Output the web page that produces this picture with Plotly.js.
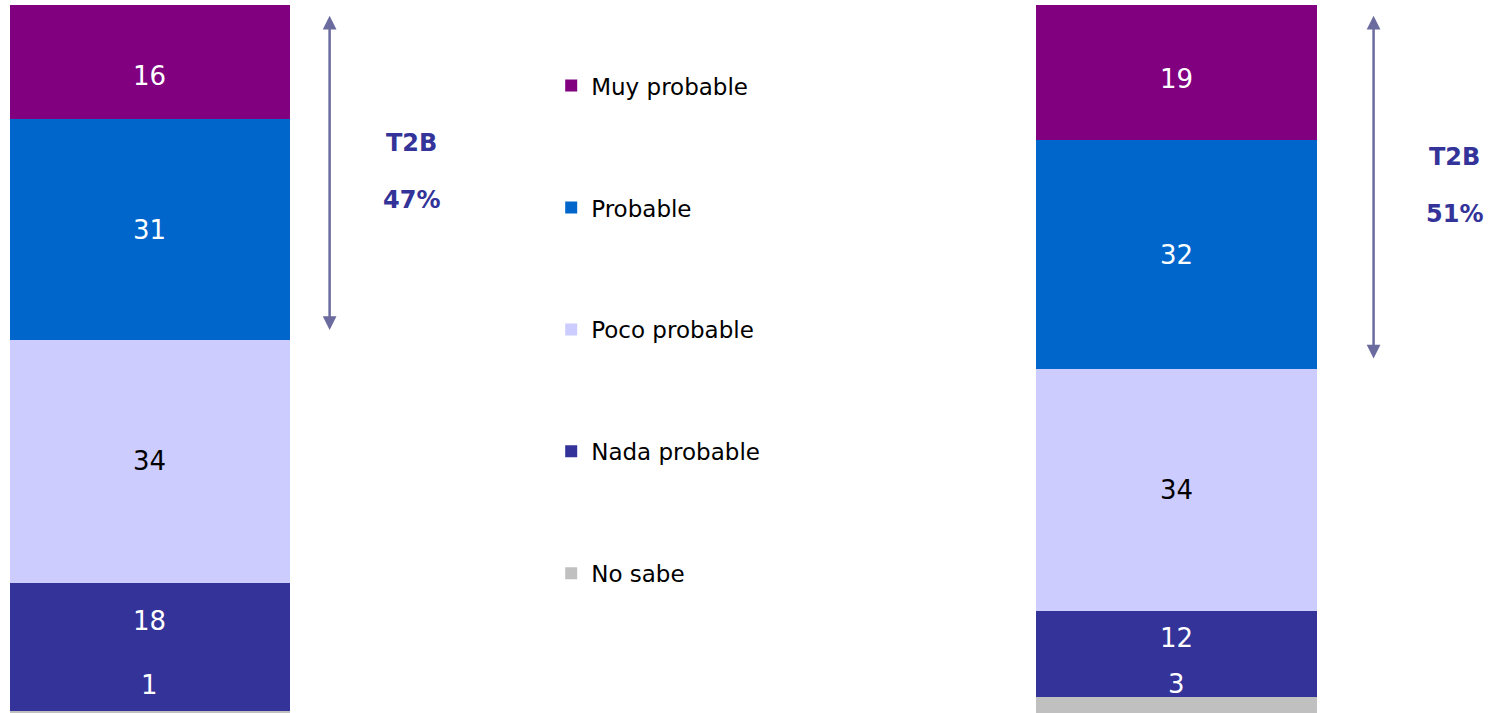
<!DOCTYPE html>
<html>
<head>
<meta charset="utf-8">
<script src="https://cdn.plot.ly/plotly-3.0.1.min.js"></script>
<style>
  html, body { margin: 0; padding: 0; background: #ffffff; }
  #chart { width: 1506px; height: 713px; }
</style>
</head>
<body>
<div id="chart"></div>
<script>
// ---- data ----
const groups = [0, 1];                 // two bars (no category labels in the source)
const seriesNames = ['No sabe', 'Nada probable', 'Poco probable', 'Probable', 'Muy probable'];
const noSabe   = [1, 3];
const nada     = [18, 12];
const poco     = [34, 34];
const probable = [31, 32];
const muy      = [16, 19];
const t2b      = [47, 51];
const t2bLabel = 'T2B';

// ---- styles ----
const colors = ['#C0C0C0', '#333399', '#CCCCFF', '#0066CC', '#800080'];
const labelColors = ['#FFFFFF', '#FFFFFF', '#000000', '#FFFFFF', '#FFFFFF'];
// label anchor within segment (0 = bottom, 0.5 = middle, 1 = top) and pixel nudges
const labelAnchor = [1, 0.5, 0.5, 0.5, 0.5];
const labelShift = [[26, 13], [26, 16], [0, 0], [0, 0], [-14, -6]];
const arrowDx = [0.175, 0.192];
const textDx = [0.255, 0.2705];
const FONT = 'DejaVu Sans, sans-serif';

const values = [noSabe, nada, poco, probable, muy];
const legendRanks = [5, 4, 3, 2, 1];

const traces = values.map((v, i) => ({
  type: 'bar',
  name: seriesNames[i],
  x: groups,
  y: v,
  width: 0.2728,
  marker: { color: colors[i], line: { width: 0 } },
  legendgroup: 'g' + i,
  legendrank: legendRanks[i],
  hoverinfo: 'name+y'
}));

const annotations = [];
groups.forEach((g, b) => {
  let base = 0;
  values.forEach((v, i) => {
    annotations.push({
      x: g, y: base + v[b] * labelAnchor[i], xref: 'x', yref: 'y',
      text: String(v[b]), showarrow: false,
      yshift: labelShift[i][b],
      font: { family: FONT, size: 26, color: labelColors[i] }
    });
    base += v[b];
  });
  const total = base;
  // T2B double arrow spanning Muy + Probable
  annotations.push({
    x: g + arrowDx[b], y: total - 1.5, xref: 'x', yref: 'y',
    ax: g + arrowDx[b], ay: total - t2b[b] + 1.2, axref: 'x', ayref: 'y',
    text: '', showarrow: true, arrowhead: 2, arrowside: 'end+start',
    arrowsize: 1.1, arrowwidth: 2.5, arrowcolor: '#6B6B9F', standoff: 0, startstandoff: 0
  });
  annotations.push({
    x: g + textDx[b], y: total - t2b[b] / 2 + 4.2, xref: 'x', yref: 'y',
    text: '<b>' + t2bLabel + '</b>', showarrow: false,
    font: { family: FONT, size: 24, color: '#333399' }
  });
  annotations.push({
    x: g + textDx[b], y: total - t2b[b] / 2 - 3.8, xref: 'x', yref: 'y',
    text: '<b>' + t2b[b] + '%</b>', showarrow: false,
    font: { family: FONT, size: 24, color: '#333399' }
  });
});

const layout = {
  width: 1506, height: 713,
  margin: { l: 0, r: 0, t: 0, b: 0 },
  paper_bgcolor: '#ffffff', plot_bgcolor: '#ffffff',
  barmode: 'stack',
  showlegend: true,
  legend: {
    x: 0.366, y: 0.91, xanchor: 'left', yanchor: 'top',
    traceorder: 'grouped', tracegroupgap: 89,
    font: { family: FONT, size: 23, color: '#000000' },
    bgcolor: 'rgba(0,0,0,0)'
  },
  xaxis: { range: [-0.1461, 1.321], showgrid: false, zeroline: false, showticklabels: false, showline: false, fixedrange: true },
  yaxis: { range: [0.7, 100.7], showgrid: false, zeroline: false, showticklabels: false, showline: false, fixedrange: true },
  annotations: annotations
};

Plotly.newPlot('chart', traces, layout, { displayModeBar: false, staticPlot: true });
</script>
</body>
</html>
